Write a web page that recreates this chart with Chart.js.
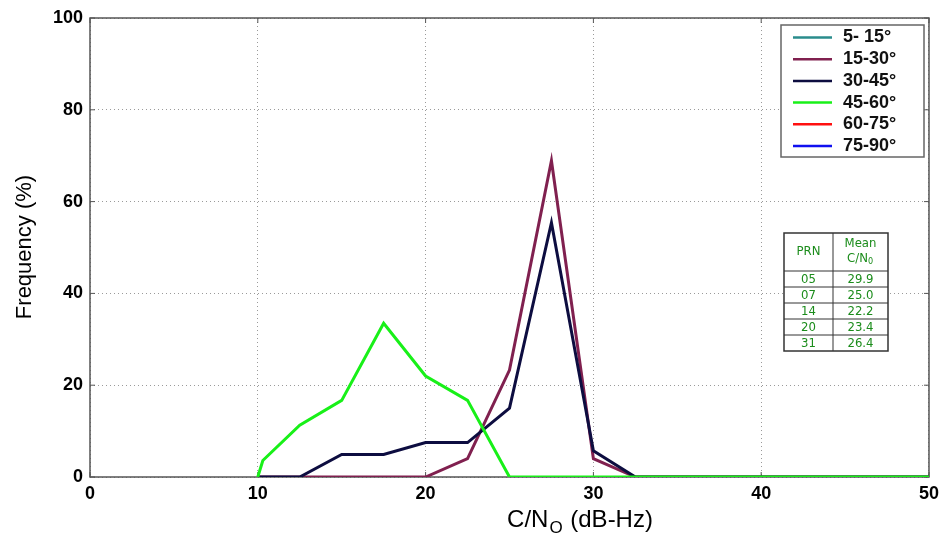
<!DOCTYPE html>
<html>
<head>
<meta charset="utf-8">
<script src="https://cdn.jsdelivr.net/npm/chart.js@4/dist/chart.umd.min.js"></script>
<style>
  html, body { margin: 0; padding: 0; background: #fff; }
  #wrap { width: 945px; height: 533px; }
</style>
</head>
<body>
<div id="wrap"><canvas id="chart1"></canvas></div>
<script>
// C/N0 bins (dB-Hz) and frequency (%) per elevation band
const cnBins = [10, 12.5, 15, 17.5, 20, 22.5, 25, 27.5, 30, 32.5, 35, 37.5, 40, 42.5, 45, 47.5, 50];
const greenBins = [10, 10.3, 12.5, 15, 17.5, 20, 22.5, 25, 27.5, 30, 32.5, 35, 37.5, 40, 42.5, 45, 47.5, 50];

const elev5_15 = [];
const elev15_30 = [0, 0, 0, 0, 0, 4.0, 23.3, 68.9, 4.0, 0, 0, 0, 0, 0, 0, 0, 0];
const elev30_45 = [0, 0, 4.9, 4.9, 7.5, 7.5, 15.0, 55.4, 5.7, 0, 0, 0, 0, 0, 0, 0, 0];
const elev45_60 = [0, 3.6, 11.3, 16.7, 33.5, 22.0, 16.7, 0, 0, 0, 0, 0, 0, 0, 0, 0, 0, 0];
const elev60_75 = [];
const elev75_90 = [];

const seriesLabels = ['5- 15°', '15-30°', '30-45°', '45-60°', '60-75°', '75-90°'];
const seriesColors = ['#2a8c8c', '#80204f', '#0d0d40', '#18f018', '#ff1010', '#1010f0'];

const xTicks = [0, 10, 20, 30, 40, 50];
const yTicks = [0, 20, 40, 60, 80, 100];

const prnList = ['05', '07', '14', '20', '31'];
const meanCn0 = ['29.9', '25.0', '22.2', '23.4', '26.4'];

function toPoints(xs, ys) {
    return ys.map((y, i) => ({ x: xs[i], y: y }));
}

const seriesData = [
    toPoints(cnBins, elev5_15),
    toPoints(cnBins, elev15_30),
    toPoints(cnBins, elev30_45),
    toPoints(greenBins, elev45_60),
    toPoints(cnBins, elev60_75),
    toPoints(cnBins, elev75_90)
];

// matlab draws later lines on top, chart.js draws low order on top
const datasets = seriesLabels.map((label, i) => ({
    label: label,
    data: seriesData[i],
    borderColor: seriesColors[i],
    backgroundColor: seriesColors[i],
    borderWidth: 3,
    pointRadius: 0,
    tension: 0,
    fill: false,
    order: 10 - i
}));

const figureExtras = {
    id: 'figureExtras',
    beforeDatasetsDraw(chart) {
        const ctx = chart.ctx;
        const area = chart.chartArea;
        const xs = chart.scales.x;
        const ys = chart.scales.y;

        // axes box with inward ticks, under the lines
        ctx.save();
        ctx.strokeStyle = '#555';
        ctx.lineWidth = 1.5;
        ctx.strokeRect(area.left, area.top, area.right - area.left, area.bottom - area.top);
        ctx.lineWidth = 1;
        xTicks.forEach(v => {
            const px = xs.getPixelForValue(v);
            ctx.beginPath();
            ctx.moveTo(px, area.bottom); ctx.lineTo(px, area.bottom - 5);
            ctx.moveTo(px, area.top); ctx.lineTo(px, area.top + 5);
            ctx.stroke();
        });
        yTicks.forEach(v => {
            const py = ys.getPixelForValue(v);
            ctx.beginPath();
            ctx.moveTo(area.left, py); ctx.lineTo(area.left + 5, py);
            ctx.moveTo(area.right, py); ctx.lineTo(area.right - 5, py);
            ctx.stroke();
        });
        ctx.restore();
    },
    afterDraw(chart) {
        const ctx = chart.ctx;
        ctx.save();

        // axis titles
        ctx.fillStyle = '#000';
        ctx.font = '22px Arial, "Liberation Sans", sans-serif';
        ctx.textAlign = 'center';
        ctx.textBaseline = 'middle';
        ctx.save();
        ctx.translate(25, 247);
        ctx.rotate(-Math.PI / 2);
        ctx.fillText('Frequency (%)', 0, 0);
        ctx.restore();

        const bigFont = '24px Arial, "Liberation Sans", sans-serif';
        const subFont = '17px Arial, "Liberation Sans", sans-serif';
        ctx.textAlign = 'left';
        ctx.textBaseline = 'alphabetic';
        ctx.font = bigFont;
        const w1 = ctx.measureText('C/N').width;
        const w3 = ctx.measureText(' (dB-Hz)').width;
        ctx.font = subFont;
        const w2 = ctx.measureText('O').width;
        let tx = 579 - (w1 + w2 + w3) / 2;
        const base = 527;
        ctx.font = bigFont;
        ctx.fillText('C/N', tx, base);
        ctx.font = subFont;
        ctx.fillText('O', tx + w1 + 1, base + 6);
        ctx.font = bigFont;
        ctx.fillText(' (dB-Hz)', tx + w1 + w2 + 2, base);

        // legend box
        const lg = { left: 781, top: 25, right: 924, bottom: 157, row: 21.7 };
        ctx.fillStyle = '#fff';
        ctx.fillRect(lg.left, lg.top, lg.right - lg.left, lg.bottom - lg.top);
        ctx.strokeStyle = '#666';
        ctx.lineWidth = 1.5;
        ctx.strokeRect(lg.left, lg.top, lg.right - lg.left, lg.bottom - lg.top);
        ctx.font = 'bold 18px Arial, "Liberation Sans", sans-serif';
        ctx.textBaseline = 'middle';
        chart.data.datasets.forEach((ds, i) => {
            const y = lg.top + 12.5 + i * lg.row;
            ctx.strokeStyle = ds.borderColor;
            ctx.lineWidth = 2.5;
            ctx.beginPath();
            ctx.moveTo(793, y);
            ctx.lineTo(832, y);
            ctx.stroke();
            ctx.fillStyle = '#111';
            ctx.fillText(ds.label, 843, y);
        });

        // PRN table
        const tb = { left: 784, right: 888, mid: 833, top: 233, head: 271, row: 16 };
        const tbBottom = tb.head + prnList.length * tb.row;
        ctx.fillStyle = '#fff';
        ctx.fillRect(tb.left, tb.top, tb.right - tb.left, tbBottom - tb.top);
        ctx.strokeStyle = '#333';
        ctx.lineWidth = 1.5;
        ctx.strokeRect(tb.left, tb.top, tb.right - tb.left, tbBottom - tb.top);
        ctx.lineWidth = 1;
        ctx.beginPath();
        ctx.moveTo(tb.mid, tb.top); ctx.lineTo(tb.mid, tbBottom);
        for (let i = 0; i < prnList.length; i++) {
            const y = tb.head + i * tb.row;
            ctx.moveTo(tb.left, y); ctx.lineTo(tb.right, y);
        }
        ctx.stroke();

        const c1 = (tb.left + tb.mid) / 2;
        const c2 = (tb.mid + tb.right) / 2;
        const tableFont = '"DejaVu Sans Condensed", "Liberation Sans Narrow", Arial, sans-serif';
        ctx.fillStyle = '#1b8c1b';
        ctx.textAlign = 'center';
        ctx.textBaseline = 'middle';
        ctx.font = '13px ' + tableFont;
        ctx.fillText('PRN', c1, 252);
        ctx.fillText('Mean', c2, 244);
        const wc = ctx.measureText('C/N').width;
        ctx.textAlign = 'left';
        ctx.fillText('C/N', c2 - wc / 2 - 3, 259);
        ctx.font = '9px ' + tableFont;
        ctx.fillText('0', c2 + wc / 2 - 3, 262);
        ctx.textAlign = 'center';
        ctx.font = '13px ' + tableFont;
        prnList.forEach((p, i) => {
            const y = tb.head + i * tb.row + tb.row / 2 + 0.5;
            ctx.fillText(p, c1, y);
            ctx.fillText(meanCn0[i], c2, y);
        });
        ctx.restore();
    }
};

const ctx1 = document.getElementById('chart1').getContext('2d');
const chart1 = new Chart(ctx1, {
    type: 'line',
    data: { datasets: datasets },
    options: {
        responsive: true,
        maintainAspectRatio: false,
        animation: false,
        layout: { padding: { top: 18, right: 13, left: 0, bottom: 0 } },
        plugins: {
            legend: { display: false },
            tooltip: { enabled: false }
        },
        scales: {
            x: {
                type: 'linear',
                min: 0,
                max: 50,
                afterBuildTicks: (scale) => { scale.ticks = xTicks.map(v => ({ value: v })); },
                afterFit: (scale) => { scale.height = 56; },
                ticks: {
                    color: '#000',
                    padding: 6,
                    maxRotation: 0,
                    font: { family: 'Arial, "Liberation Sans", sans-serif', size: 18, weight: 'bold' }
                },
                grid: { color: '#9a9a9a', lineWidth: 1, drawTicks: false },
                border: { display: false, dash: [1, 3] }
            },
            y: {
                min: 0,
                max: 100,
                afterBuildTicks: (scale) => { scale.ticks = yTicks.map(v => ({ value: v })); },
                afterFit: (scale) => { scale.width = 90; },
                ticks: {
                    color: '#000',
                    padding: 7,
                    font: { family: 'Arial, "Liberation Sans", sans-serif', size: 18, weight: 'bold' }
                },
                grid: { color: '#9a9a9a', lineWidth: 1, drawTicks: false },
                border: { display: false, dash: [1, 3] }
            }
        }
    },
    plugins: [figureExtras]
});
</script>
</body>
</html>
